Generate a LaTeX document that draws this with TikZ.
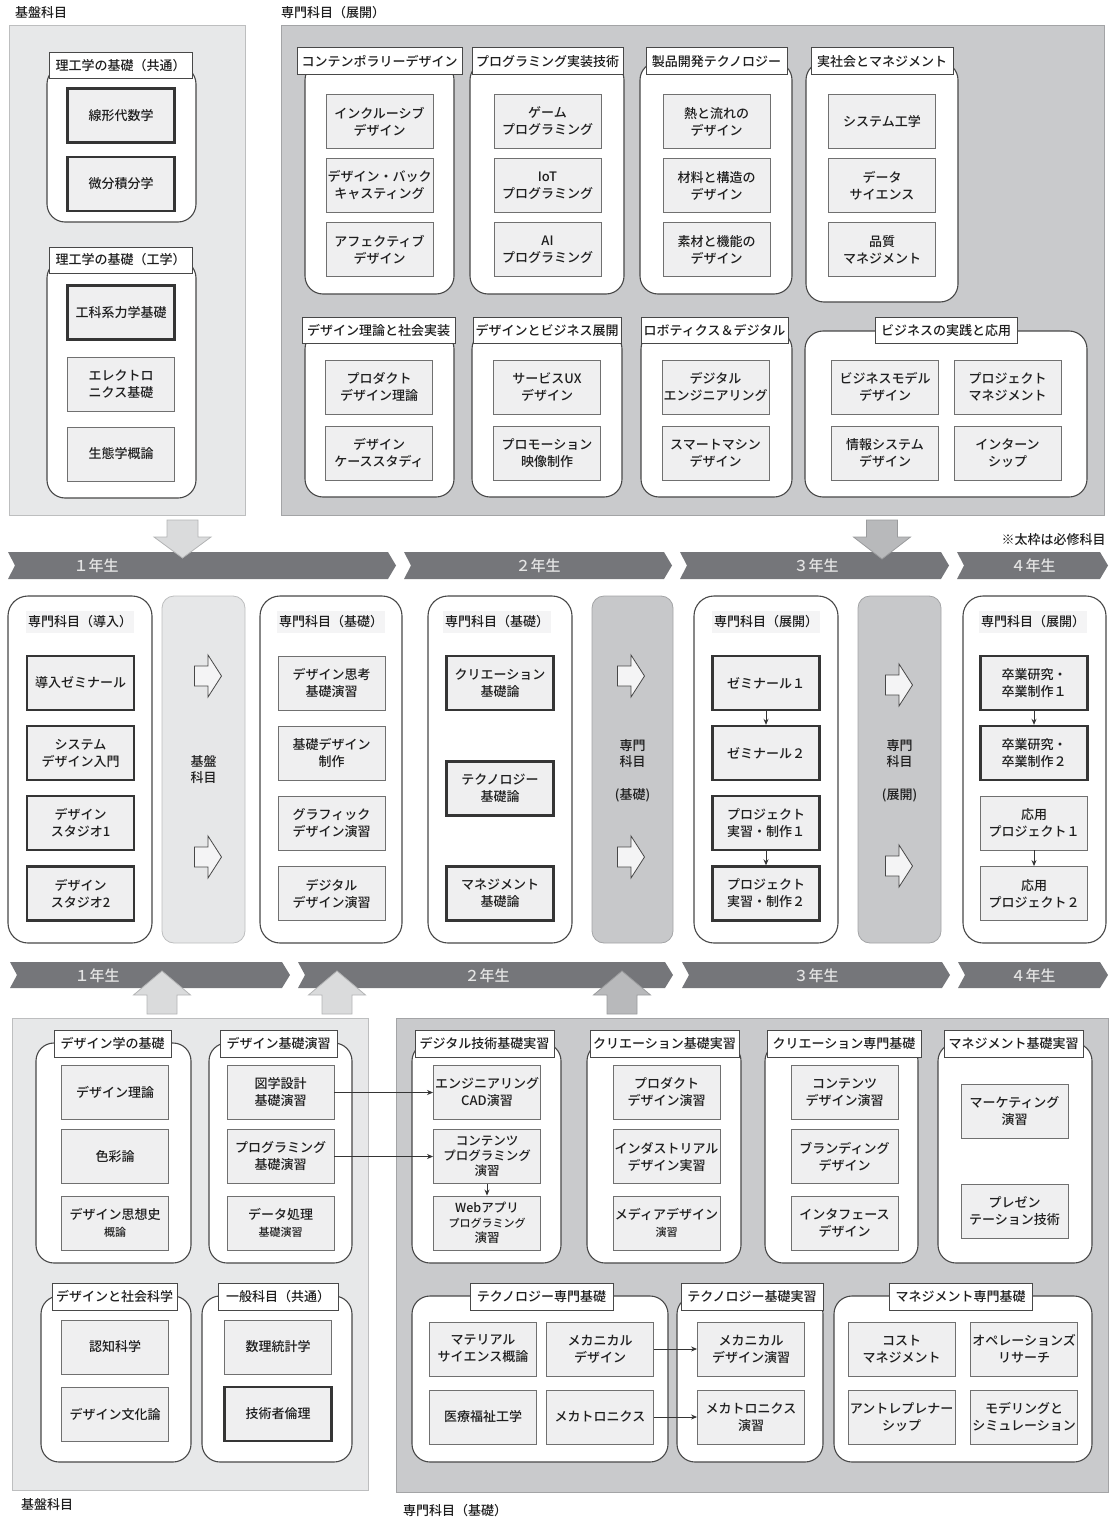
\documentclass[tikz,border=0pt]{standalone}
\usepackage{fontspec}
\setmainfont{Noto Sans CJK JP}[UprightFont=* Medium]
\usepackage{tikz}
\usetikzlibrary{arrows.meta}
\definecolor{cText}{HTML}{1E1E1E}
\definecolor{cBox}{HTML}{EFEFF0}
\definecolor{cBoxLine}{HTML}{707070}
\definecolor{cReqLine}{HTML}{353535}
\definecolor{cGrpLine}{HTML}{484848}
\definecolor{cPanelL}{HTML}{E7E8E9}
\definecolor{cPanelLLine}{HTML}{BDBEBF}
\definecolor{cPanelD}{HTML}{C9CACC}
\definecolor{cPanelDLine}{HTML}{A3A4A6}
\definecolor{cBand}{HTML}{75767A}
\definecolor{cBandText}{HTML}{E4E4E4}
\definecolor{cArrL}{HTML}{DADBDC}
\definecolor{cArrLLine}{HTML}{B3B4B5}
\definecolor{cArrD}{HTML}{B8B9BB}
\definecolor{cArrDLine}{HTML}{9A9B9D}
\definecolor{cStripL}{HTML}{E6E7E8}
\definecolor{cStripD}{HTML}{C7C8CA}
\definecolor{cHead}{HTML}{F4F4F5}

\begin{document}
\begin{tikzpicture}[x=1pt, y=-1pt,
        subj/.style={draw=cBoxLine, line width=0.9pt, fill=cBox, text=cText, align=center, inner sep=0pt,
            minimum width=107, minimum height=54, font=\fontsize{13}{17}\selectfont},
        reqsubj/.style={subj, draw=cReqLine, line width=2.4pt},
        grp/.style={draw=cGrpLine, line width=1.1pt, fill=white, rounded corners=18pt},
        grptitle/.style={draw=cGrpLine, line width=1pt, fill=white, text=cText, inner sep=0pt,
            minimum height=26, font=\fontsize{13}{15}\selectfont},
        kibanpanel/.style={draw=cPanelLLine, line width=0.8pt, fill=cPanelL},
        senmonpanel/.style={draw=cPanelDLine, line width=0.8pt, fill=cPanelD},
        yearcol/.style={draw=cGrpLine, line width=1.1pt, fill=white, rounded corners=20pt},
        colhead/.style={fill=cHead, text=cText, inner sep=0pt, minimum width=108, minimum height=22,
            font=\fontsize{13}{15}\selectfont},
        stripL/.style={draw=cPanelLLine, line width=0.8pt, fill=cStripL, rounded corners=12pt},
        stripD/.style={draw=cPanelDLine, line width=0.8pt, fill=cStripD, rounded corners=12pt},
        striptext/.style={text=cText, align=center, font=\fontsize{13}{16}\selectfont},
        band/.style={fill=cBand},
        bandlbl/.style={text=cBandText, font=\fontsize{15}{15}\selectfont},
        bigarrL/.style={draw=cArrLLine, line width=0.8pt, fill=cArrL},
        bigarrD/.style={draw=cArrDLine, line width=0.8pt, fill=cArrD},
        lbl/.style={text=cText, font=\fontsize{13}{15}\selectfont},
        link/.style={draw=cReqLine, line width=0.8pt, -{Stealth[length=6pt,width=5pt]}},
        rarr/.pic={\draw[cGrpLine, line width=0.8pt, fill=cHead] (-13.5,-10) -- ++(13.5,0) -- ++(0,-11)
            -- ++(13.5,21) -- ++(-13.5,21) -- ++(0,-11) -- ++(-13.5,0) -- cycle;}
    ]
    \useasboundingbox (0,0) rectangle (1110,1517);

    % ---------- 基盤科目 (top left) ----------
    \node[lbl] (lblKibanTop) at (41,13) {基盤科目};
    \draw[kibanpanel] (9,25) rectangle (245,515);
    \draw[grp] (47,66) rectangle (196,222);
    \node[grptitle, minimum width=143] (tRiko1) at (120.5,66) {理工学の基礎（共通）};
    \node[reqsubj] (senkei) at (121,115.5) {線形代数学};
    \node[reqsubj] (bibun) at (121,184) {微分積分学};
    \draw[grp] (47,260) rectangle (196,498);
    \node[grptitle, minimum width=143] (tRiko2) at (120.5,260) {理工学の基礎（工学）};
    \node[reqsubj] (rikigaku) at (121,312.5) {工科系力学基礎};
    \node[subj] (elec) at (121,384) {エレクトロ\\ニクス基礎};
    \node[subj] (seitai) at (121,454) {生態学概論};

    % ---------- 専門科目（展開） (top right) ----------
    \node[lbl] (lblTenkaiTop) at (333,13) {専門科目（展開）};
    \draw[senmonpanel] (281,25) rectangle (1104,515);
    \draw[grp] (305,62) rectangle (454,294);
    \node[grptitle, minimum width=165, minimum height=27] (tContemp) at (379.5,61.5) {コンテンポラリーデザイン};
    \node[subj] (inclusive) at (379.5,121.5) {インクルーシブ\\デザイン};
    \node[subj] (backcast) at (379.5,185.5) {デザイン・バック\\キャスティング};
    \node[subj] (affective) at (379.5,249.5) {アフェクティブ\\デザイン};
    \draw[grp] (470,62) rectangle (624,294);
    \node[grptitle, minimum width=151, minimum height=27] (tProgImpl) at (547.5,61.5) {プログラミング実装技術};
    \node[subj] (gameprog) at (547.5,121.5) {ゲーム\\プログラミング};
    \node[subj] (iotprog) at (547.5,185.5) {IoT\\プログラミング};
    \node[subj] (aiprog) at (547.5,249.5) {AI\\プログラミング};
    \draw[grp] (640,62) rectangle (792,294);
    \node[grptitle, minimum width=141, minimum height=27] (tProduct) at (716.5,61.5) {製品開発テクノロジー};
    \node[subj] (heatflow) at (716.5,121.5) {熱と流れの\\デザイン};
    \node[subj] (material) at (716.5,185.5) {材料と構造の\\デザイン};
    \node[subj] (function) at (716.5,249.5) {素材と機能の\\デザイン};
    \draw[grp] (806,62) rectangle (958,302);
    \node[grptitle, minimum width=142, minimum height=27] (tSociety) at (882,61.5) {実社会とマネジメント};
    \node[subj] (syseng) at (882,121.5) {システム工学};
    \node[subj] (datasci) at (882,185.5) {データ\\サイエンス};
    \node[subj] (quality) at (882,249.5) {品質\\マネジメント};

    \draw[grp] (305,331) rectangle (454,497);
    \node[grptitle, minimum width=153] (tTheory) at (378.5,330.5) {デザイン理論と社会実装};
    \node[subj] (prodtheory) at (379,387) {プロダクト\\デザイン理論};
    \node[subj] (casestudy) at (379,453) {デザイン\\ケーススタディ};
    \draw[grp] (472,331) rectangle (622,497);
    \node[grptitle, minimum width=148] (tBusiness) at (547,330.5) {デザインとビジネス展開};
    \node[subj] (serviceux) at (547,387) {サービスUX\\デザイン};
    \node[subj] (promotion) at (547,453) {プロモーション\\映像制作};
    \draw[grp] (641,331) rectangle (792,497);
    \node[grptitle, minimum width=147] (tRobot) at (714.5,330.5) {ロボティクス＆デジタル};
    \node[subj] (digieng) at (715.5,387) {デジタル\\エンジニアリング};
    \node[subj] (smart) at (715.5,453) {スマートマシン\\デザイン};
    \draw[grp] (805,331) rectangle (1087,497);
    \node[grptitle, minimum width=142] (tPractice) at (946,330.5) {ビジネスの実践と応用};
    \node[subj] (bizmodel) at (885,387) {ビジネスモデル\\デザイン};
    \node[subj] (infosys) at (885,453) {情報システム\\デザイン};
    \node[subj] (projman) at (1007.5,387) {プロジェクト\\マネジメント};
    \node[subj] (intern) at (1007.5,453) {インターン\\シップ};

    % ---------- 学年の帯 (top) ----------
    \fill[band] (8,552) -- (388,552) -- (396,565.5) -- (388,579) -- (8,579) -- (15,565.5) -- cycle;
    \fill[band] (404,552) -- (664,552) -- (672,565.5) -- (664,579) -- (404,579) -- (411,565.5) -- cycle;
    \fill[band] (680,552) -- (941,552) -- (949,565.5) -- (941,579) -- (680,579) -- (687,565.5) -- cycle;
    \fill[band] (957,552) -- (1100,552) -- (1108,565.5) -- (1100,579) -- (957,579) -- (964,565.5) -- cycle;
    \node[bandlbl] (yTop1) at (96,566) {１年生};
    \node[bandlbl] (yTop2) at (538,566) {２年生};
    \node[bandlbl] (yTop3) at (816,566) {３年生};
    \node[bandlbl] (yTop4) at (1033,566) {４年生};
    \node[lbl] (note) at (1053.5,540) {※太枠は必修科目};
    \draw[bigarrL] (167,520) -- (198,520) -- (198,537) -- (211,537) -- (182.5,558) -- (154,537) -- (167,537) -- cycle;
    \draw[bigarrD] (866.5,520) -- (897.5,520) -- (897.5,537) -- (910.5,537) -- (882,559) -- (853.5,537) -- (866.5,537) -- cycle;

    % ---------- 学年ごとの科目 ----------
    \draw[yearcol] (8,596) rectangle (152,943);
    \node[colhead] (hIntro) at (80,622) {専門科目（導入）};
    \node[reqsubj] (introsemi) at (80.5,683) {導入ゼミナール};
    \node[reqsubj] (sysintro) at (80.5,753) {システム\\デザイン入門};
    \node[reqsubj] (studio1) at (80.5,823) {デザイン\\スタジオ1};
    \node[reqsubj] (studio2) at (80.5,893.5) {デザイン\\スタジオ2};

    \draw[stripL] (162,596) rectangle (245,943);
    \node[striptext] (sKiban) at (203.5,770) {基盤\\科目};
    \pic at (208,676) {rarr};
    \pic at (208,857) {rarr};

    \draw[yearcol] (260,596) rectangle (402,943);
    \node[colhead] (hBasic1) at (331,622) {専門科目（基礎）};
    \node[subj] (thinking) at (331.5,683) {デザイン思考\\基礎演習};
    \node[subj] (basicdes) at (331.5,753) {基礎デザイン\\制作};
    \node[subj] (graphic) at (331.5,823) {グラフィック\\デザイン演習};
    \node[subj] (digides) at (331.5,893.5) {デジタル\\デザイン演習};

    \draw[yearcol] (428,596) rectangle (572,943);
    \node[colhead] (hBasic2) at (497,622) {専門科目（基礎）};
    \node[reqsubj] (creation) at (500,683) {クリエーション\\基礎論};
    \node[reqsubj] (technology) at (500,788.5) {テクノロジー\\基礎論};
    \node[reqsubj] (management) at (500,893.5) {マネジメント\\基礎論};

    \draw[stripD] (592,596) rectangle (673,943);
    \node[striptext] (sBasic) at (632.5,754) {専門\\科目};
    \node[striptext] (sBasicSub) at (632.5,795) {(基礎)};
    \pic at (631,676) {rarr};
    \pic at (631,857) {rarr};

    \draw[yearcol] (694,596) rectangle (838,943);
    \node[colhead] (hAdv1) at (766,622) {専門科目（展開）};
    \node[reqsubj] (semi1) at (766,683) {ゼミナール１};
    \node[reqsubj] (semi2) at (766,753) {ゼミナール２};
    \node[reqsubj] (proj1) at (766,823) {プロジェクト\\実習・制作１};
    \node[reqsubj] (proj2) at (766,893.5) {プロジェクト\\実習・制作２};
    \draw[link] (semi1) -- (semi2);
    \draw[link] (proj1) -- (proj2);

    \draw[stripD] (858,596) rectangle (941,943);
    \node[striptext] (sAdv) at (899.5,754) {専門\\科目};
    \node[striptext] (sAdvSub) at (899.5,795) {(展開)};
    \pic at (899,685) {rarr};
    \pic at (899,866) {rarr};

    \draw[yearcol] (963,596) rectangle (1106,943);
    \node[colhead] (hAdv2) at (1033,622) {専門科目（展開）};
    \node[reqsubj] (grad1) at (1034,683) {卒業研究・\\卒業制作１};
    \node[reqsubj] (grad2) at (1034,753) {卒業研究・\\卒業制作２};
    \node[subj] (applied1) at (1034,823) {応用\\プロジェクト１};
    \node[subj] (applied2) at (1034,893.5) {応用\\プロジェクト２};
    \draw[link] (grad1) -- (grad2);
    \draw[link] (applied1) -- (applied2);

    % ---------- 学年の帯 (bottom) ----------
    \fill[band] (10,962) -- (282,962) -- (290,975) -- (282,988) -- (10,988) -- (17,975) -- cycle;
    \fill[band] (298,962) -- (665,962) -- (673,975) -- (665,988) -- (298,988) -- (305,975) -- cycle;
    \fill[band] (682,962) -- (942,962) -- (950,975) -- (942,988) -- (682,988) -- (689,975) -- cycle;
    \fill[band] (958,962) -- (1100,962) -- (1108,975) -- (1100,988) -- (958,988) -- (965,975) -- cycle;
    \node[bandlbl] (yBot1) at (97,975.5) {１年生};
    \node[bandlbl] (yBot2) at (487,975.5) {２年生};
    \node[bandlbl] (yBot3) at (816,975.5) {３年生};
    \node[bandlbl] (yBot4) at (1033,975.5) {４年生};
    \draw[bigarrL] (147,1014) -- (177,1014) -- (177,995) -- (190.5,995) -- (162,971) -- (133.5,995) -- (147,995) -- cycle;
    \draw[bigarrL] (322,1014) -- (352,1014) -- (352,995) -- (365.5,995) -- (337,971) -- (308.5,995) -- (322,995) -- cycle;
    \draw[bigarrD] (607,1014) -- (637,1014) -- (637,995) -- (650.5,995) -- (622,971) -- (593.5,995) -- (607,995) -- cycle;

    % ---------- 基盤科目 (bottom left) ----------
    \draw[kibanpanel] (12,1018) rectangle (368,1490);
    \node[lbl] (lblKibanBot) at (47,1505) {基盤科目};
    \draw[grp] (36,1043) rectangle (191,1263);
    \node[grptitle, minimum width=117, minimum height=27] (tDesBase) at (112.5,1043.5) {デザイン学の基礎};
    \node[subj] (destheory) at (115,1092.5) {デザイン理論};
    \node[subj] (color) at (115,1156.5) {色彩論};
    \node[subj] (history) at (115,1223) {デザイン思想史\\{\fontsize{11}{13}\selectfont 概論}};
    \draw[grp] (209,1043) rectangle (352,1263);
    \node[grptitle, minimum width=117, minimum height=27] (tDesEx) at (278.5,1043.5) {デザイン基礎演習};
    \node[subj] (zugaku) at (280.5,1092.5) {図学設計\\基礎演習};
    \node[subj] (progex) at (280.5,1156.5) {プログラミング\\基礎演習};
    \node[subj] (dataproc) at (280.5,1223) {データ処理\\{\fontsize{11}{13}\selectfont 基礎演習}};
    \draw[grp] (41,1296) rectangle (191,1462);
    \node[grptitle, minimum width=125, minimum height=27] (tSocial) at (114.5,1296.5) {デザインと社会科学};
    \node[subj] (cognitive) at (115,1347) {認知科学};
    \node[subj] (culture) at (115,1414) {デザイン文化論};
    \draw[grp] (202,1296) rectangle (352,1462);
    \node[grptitle, minimum width=120, minimum height=27] (tGeneral) at (278,1296.5) {一般科目（共通）};
    \node[subj] (stats) at (278,1347) {数理統計学};
    \node[reqsubj] (ethics) at (278,1414) {技術者倫理};

    % ---------- 専門科目（基礎） (bottom right) ----------
    \draw[senmonpanel] (396,1018) rectangle (1108,1492);
    \node[lbl] (lblBasicBot) at (455,1511) {専門科目（基礎）};
    \draw[grp] (412,1043) rectangle (561,1263);
    \node[grptitle, minimum width=139, minimum height=27] (tDigital) at (484.5,1043.5) {デジタル技術基礎実習};
    \node[subj] (cad) at (487,1092.5) {エンジニアリング\\CAD演習};
    \node[subj, font=\fontsize{12.5}{15}\selectfont] (contprog) at (487,1156.5) {コンテンツ\\プログラミング\\演習};
    \node[subj, font=\fontsize{12.5}{15}\selectfont] (webapp) at (487,1223) {Webアプリ\\{\fontsize{11}{13}\selectfont プログラミング}\\演習};
    \draw[link] (contprog) -- (webapp);
    \draw[link] (zugaku) -- (cad);
    \draw[link] (progex) -- (contprog);
    \draw[grp] (587,1043) rectangle (741,1263);
    \node[grptitle, minimum width=149, minimum height=27] (tCreEx) at (664.5,1043.5) {クリエーション基礎実習};
    \node[subj] (prodex) at (666.5,1092.5) {プロダクト\\デザイン演習};
    \node[subj] (industrial) at (666.5,1156.5) {インダストリアル\\デザイン実習};
    \node[subj] (media) at (666.5,1223) {メディアデザイン\\{\fontsize{11}{13}\selectfont 演習}};
    \draw[grp] (765,1043) rectangle (918,1263);
    \node[grptitle, minimum width=154, minimum height=27] (tCreAdv) at (844,1043.5) {クリエーション専門基礎};
    \node[subj] (contdes) at (844.5,1092.5) {コンテンツ\\デザイン演習};
    \node[subj] (branding) at (844.5,1156.5) {ブランディング\\デザイン};
    \node[subj] (interface) at (844.5,1223) {インタフェース\\デザイン};
    \draw[grp] (938,1043) rectangle (1092,1263);
    \node[grptitle, minimum width=139, minimum height=27] (tManEx) at (1013.5,1043.5) {マネジメント基礎実習};
    \node[subj] (marketing) at (1014.5,1111.5) {マーケティング\\演習};
    \node[subj] (presen) at (1014.5,1211) {プレゼン\\テーション技術};

    \draw[grp] (412,1296) rectangle (668,1462);
    \node[grptitle, minimum width=143, minimum height=27] (tTechAdv) at (541.5,1296.5) {テクノロジー専門基礎};
    \node[subj] (matsci) at (483,1349) {マテリアル\\サイエンス概論};
    \node[subj] (mechdes) at (600,1349) {メカニカル\\デザイン};
    \node[subj] (medical) at (483,1417) {医療福祉工学};
    \node[subj] (mechatro) at (600,1417) {メカトロニクス};
    \draw[grp] (677,1296) rectangle (823,1462);
    \node[grptitle, minimum width=142, minimum height=27] (tTechEx) at (752,1296.5) {テクノロジー基礎実習};
    \node[subj] (mechdesex) at (751,1349) {メカニカル\\デザイン演習};
    \node[subj] (mechatroex) at (751,1417) {メカトロニクス\\演習};
    \draw[link] (mechdes) -- (mechdesex);
    \draw[link] (mechatro) -- (mechatroex);
    \draw[grp] (834,1296) rectangle (1092,1462);
    \node[grptitle, minimum width=143, minimum height=27] (tManAdv) at (960.5,1296.5) {マネジメント専門基礎};
    \node[subj] (cost) at (901.5,1349) {コスト\\マネジメント};
    \node[subj] (opres) at (1024,1349) {オペレーションズ\\リサーチ};
    \node[subj] (entre) at (901.5,1417) {アントレプレナー\\シップ};
    \node[subj] (modeling) at (1024,1417) {モデリングと\\シミュレーション};
\end{tikzpicture}
\end{document}
